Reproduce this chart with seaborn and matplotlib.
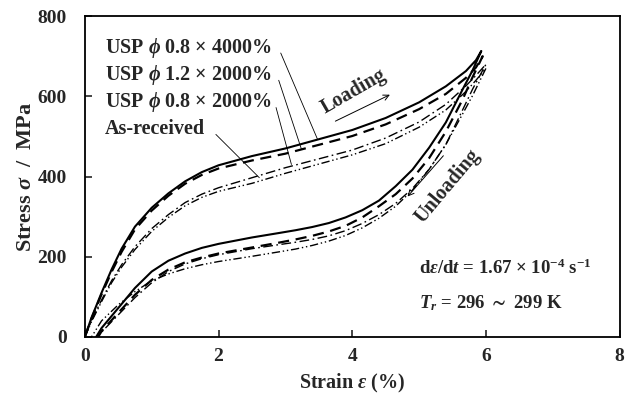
import numpy as np
import pandas as pd
import matplotlib
matplotlib.use("Agg")
import matplotlib.pyplot as plt
import seaborn as sns

# ---- data ----
# loading branch strain grid (%); the peak point of each series follows it
load_x = [0, 0.1, 0.25, 0.4, 0.55, 0.75, 1.0, 1.25, 1.5, 1.75, 2.0, 2.5, 3.0, 3.5,
          4.0, 4.5, 5.0, 5.4, 5.7, 5.85]
# unloading branch strain grid (%); the residual-strain point of each series follows it
unload_x = [5.8, 5.65, 5.4, 5.15, 4.9, 4.65, 4.4, 4.15, 3.9, 3.65, 3.4, 3.15, 2.9,
            2.5, 2.0, 1.75, 1.5, 1.25, 1.0, 0.75, 0.5, 0.25]

peak_x = [5.93, 5.95, 6.0, 6.0]
peak_y = [713, 700, 680, 670]
residual_x = [0.17, 0.2, 0.18, 0.1]

usp08_4000_load = [0, 48, 110, 168, 220, 275, 322, 358, 388, 411, 428, 451, 470, 493,
                   516, 546, 585, 625, 663, 690]
usp08_4000_unload = [665, 617, 535, 472, 417, 376, 340, 316, 298, 284, 274, 266, 259,
                     248, 232, 222, 208, 190, 163, 122, 72, 22]

usp12_2000_load = [0, 46, 106, 162, 212, 268, 315, 352, 382, 404, 420, 440, 457, 479,
                   501, 530, 568, 606, 646, 672]
usp12_2000_unload = [648, 592, 512, 446, 395, 356, 326, 298, 277, 263, 252, 243, 235,
                     223, 208, 198, 186, 168, 142, 105, 60, 14]

usp08_2000_load = [0, 40, 92, 140, 180, 225, 270, 305, 335, 356, 372, 397, 422, 444,
                   466, 496, 536, 580, 626, 652]
usp08_2000_unload = [618, 566, 480, 418, 370, 333, 305, 283, 265, 252, 243, 236, 230,
                     220, 205, 195, 182, 163, 135, 98, 55, 12]

asrec_load = [0, 38, 88, 135, 174, 218, 263, 298, 327, 348, 363, 383, 408, 431,
              454, 482, 523, 566, 612, 640]
asrec_unload = [602, 556, 480, 418, 366, 326, 296, 272, 253, 239, 228, 219, 212,
                201, 188, 180, 170, 157, 140, 113, 80, 40]

series_names = ["USP $\\phi$ 0.8 × 4000%", "USP $\\phi$ 1.2 × 2000%",
                "USP $\\phi$ 0.8 × 2000%", "As-received"]

x_ticks = [0, 2, 4, 6, 8]
y_ticks = [0, 200, 400, 600, 800]

# ---- style ----
sns.set_style("ticks")
plt.rcParams["font.family"] = ["Liberation Serif", "DejaVu Serif"]
plt.rcParams["font.weight"] = "bold"
plt.rcParams["mathtext.fontset"] = "custom"
plt.rcParams["mathtext.rm"] = "Liberation Serif:bold"
plt.rcParams["mathtext.it"] = "Liberation Serif:italic:bold"
plt.rcParams["mathtext.bf"] = "Liberation Serif:bold"
plt.rcParams["mathtext.fallback"] = "stix"

fig = plt.figure(figsize=(6.33, 4.03), dpi=100)
ax = fig.add_axes([0.134, 0.164, 0.845, 0.796])

styles = [
    dict(linestyle="-", linewidth=1.5),
    dict(linestyle=(0, (5, 3)), linewidth=1.6),
    dict(linestyle=(0, (7, 2.5, 1.2, 2.5)), linewidth=1.0),
    dict(linestyle=(0, (6, 2, 1, 2, 1, 2)), linewidth=1.0),
]

loads = [usp08_4000_load, usp12_2000_load, usp08_2000_load, asrec_load]
unloads = [usp08_4000_unload, usp12_2000_unload, usp08_2000_unload, asrec_unload]

frames = []
for i, (name, ld, ul) in enumerate(zip(series_names, loads, unloads)):
    xs = list(load_x) + [peak_x[i]] + list(unload_x) + [residual_x[i]]
    ys = list(ld) + [peak_y[i]] + list(ul) + [0]
    frames.append(pd.DataFrame({"strain": xs, "stress": ys, "sample": name,
                                "order": range(len(xs))}))
data = pd.concat(frames, ignore_index=True)

for name, st in zip(series_names, styles):
    sub = data[data["sample"] == name].sort_values("order")
    sns.lineplot(data=sub, x="strain", y="stress", sort=False, estimator=None,
                 color="black", ax=ax, **st)

ax.set_xlim(0, 8)
ax.set_ylim(0, 800)
ax.set_xticks(x_ticks)
ax.set_yticks(y_ticks)
ax.tick_params(direction="in", length=5, width=1.2, labelsize=14,
               top=False, right=False)
ax.tick_params(axis="x", pad=8)
ax.tick_params(axis="y", pad=13)
for lab in ax.get_xticklabels() + ax.get_yticklabels():
    lab.set_fontweight("bold")
for sp in ax.spines.values():
    sp.set_visible(True)
    sp.set_linewidth(1.3)
    sp.set_color("black")

ax.set_xlabel("Strain $\\varepsilon$ (%)", fontsize=14.5, fontweight="bold", labelpad=5)
ax.set_ylabel("Stress $\\sigma$  /  MPa", fontsize=16, fontweight="bold", labelpad=1)

# series labels with leader lines
lab_y = [720, 652, 585, 518]
tips = [(3.48, 493), (3.24, 468), (3.09, 430), (2.61, 397)]
starts = [(2.93, 708), (2.9, 640), (2.86, 572), (1.96, 505)]
for name, yv, tip, s in zip(series_names, lab_y, tips, starts):
    ax.text(0.3, yv, name, fontsize=14.5, fontweight="bold", va="center", ha="left")
    ax.plot([s[0], tip[0]], [s[1], tip[1]], color="black", lw=0.6)

# loading / unloading
ax.text(4.02, 612, "Loading", rotation=30, fontsize=14.5, fontweight="bold",
        ha="center", va="center", rotation_mode="anchor")
ax.annotate("", xy=(4.6, 607), xytext=(3.71, 535),
            arrowprops=dict(arrowstyle="->", lw=0.7, color="black"))
ax.text(5.42, 375, "Unloading", rotation=50, fontsize=14.5, fontweight="bold",
        ha="center", va="center", rotation_mode="anchor")
ax.annotate("", xy=(4.8, 345), xytext=(5.39, 457),
            arrowprops=dict(arrowstyle="->", lw=0.7, color="black"))

ax.text(5.0, 172, "d$\\varepsilon$/d$t$ = 1.67 $\\times$ 10$^{-4}$ s$^{-1}$",
        fontsize=13.5, fontweight="bold", ha="left", va="center")
ax.text(5.0, 85, "$T_r$ = 296 $\\sim$ 299 K",
        fontsize=13.5, fontweight="bold", ha="left", va="center")

fig.savefig("out.png", dpi=100)
